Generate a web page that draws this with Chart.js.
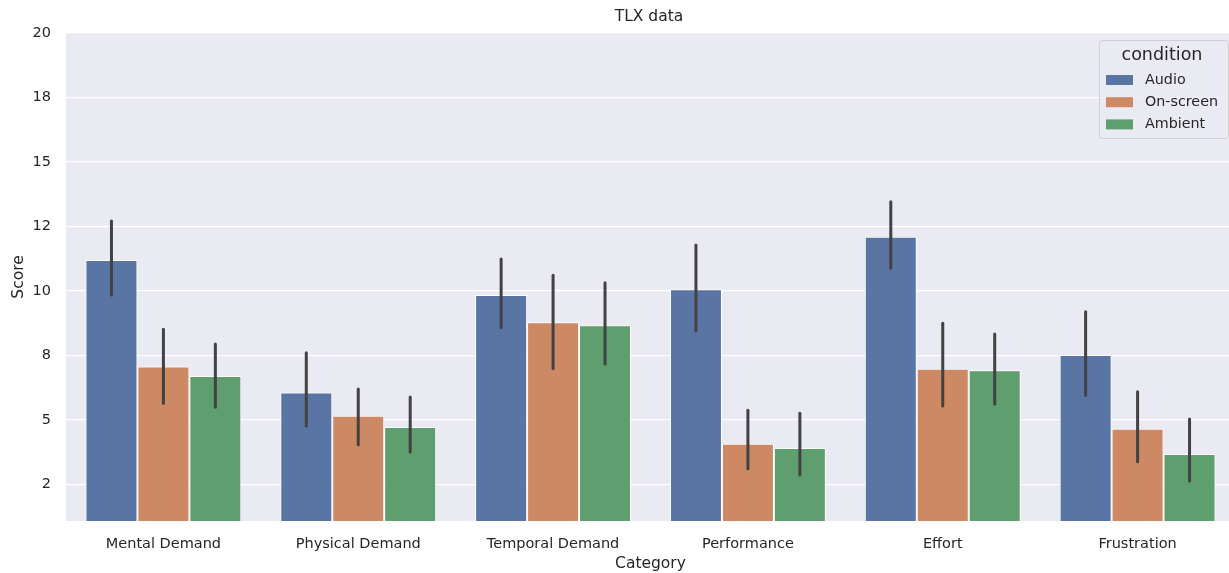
<!DOCTYPE html>
<html>
<head>
  <title>TLX data</title>
  <script src="https://cdn.jsdelivr.net/npm/chart.js"></script>
  <style>
    html, body { margin: 0; padding: 0; background: #ffffff; overflow: hidden; }
    #wrap { width: 1235px; height: 573px; }
  </style>
</head>
<body>
  <div id="wrap"><canvas id="tlx-chart" width="1235" height="573"></canvas></div>
  <script>
    // categories and series
    const categories = ["Mental Demand", "Physical Demand", "Temporal Demand", "Performance", "Effort", "Frustration"];
    const conditions = ["Audio", "On-screen", "Ambient"];

    const audioMean = [11.2, 6.07, 9.84, 10.07, 12.1, 7.52];
    const audioLow = [9.84, 4.77, 8.58, 8.45, 10.88, 5.96];
    const audioHigh = [12.71, 7.61, 11.24, 11.78, 13.46, 9.2];

    const onscreenMean = [7.07, 5.16, 8.79, 4.08, 6.99, 4.66];
    const onscreenLow = [5.65, 4.04, 7.0, 3.11, 5.54, 3.38];
    const onscreenHigh = [8.52, 6.2, 10.61, 5.38, 8.75, 6.09];

    const ambientMean = [6.71, 4.73, 8.67, 3.91, 6.93, 3.68];
    const ambientLow = [5.49, 3.76, 7.17, 2.87, 5.61, 2.64];
    const ambientHigh = [7.95, 5.89, 10.32, 5.26, 8.33, 5.04];

    // y ticks sit every 2.5, labels printed rounded like the original
    const tickValues = [2.5, 5, 7.5, 10, 12.5, 15, 17.5, 20];
    const tickLabels = ["2", "5", "8", "10", "12", "15", "18", "20"];

    const colors = ["#5975a4", "#cc8963", "#5f9e6e"];
    const FONT = "'DejaVu Sans', sans-serif";

    const errorBars = [
      { low: audioLow, high: audioHigh },
      { low: onscreenLow, high: onscreenHigh },
      { low: ambientLow, high: ambientHigh }
    ];

    const plotBg = {
      id: "plotBg",
      beforeDraw(chart) {
        const a = chart.chartArea;
        const ctx = chart.ctx;
        ctx.save();
        ctx.fillStyle = "#eaeaf2";
        ctx.fillRect(a.left, a.top, a.right - a.left, a.bottom - a.top);
        ctx.restore();
      },
      afterDatasetsDraw(chart) {
        const ctx = chart.ctx;
        const y = chart.scales.y;
        ctx.save();
        ctx.strokeStyle = "#424242";
        ctx.lineWidth = 3;
        ctx.lineCap = "round";
        chart.data.datasets.forEach((ds, i) => {
          const meta = chart.getDatasetMeta(i);
          meta.data.forEach((bar, j) => {
            ctx.beginPath();
            ctx.moveTo(bar.x, y.getPixelForValue(errorBars[i].low[j]));
            ctx.lineTo(bar.x, y.getPixelForValue(errorBars[i].high[j]));
            ctx.stroke();
          });
        });

        // title
        ctx.fillStyle = "#262626";
        ctx.font = "15.5px " + FONT;
        ctx.textAlign = "center";
        ctx.textBaseline = "middle";
        ctx.fillText("TLX data", 649, 17);

        // legend box, top right inside the plot
        const bx = 1099, by = 40, bw = 129, bh = 98;
        ctx.fillStyle = "rgba(234,234,242,0.8)";
        ctx.strokeStyle = "#d0d0d0";
        ctx.lineWidth = 1;
        ctx.beginPath();
        ctx.roundRect(bx + 0.5, by + 0.5, bw, bh, 3);
        ctx.fill();
        ctx.stroke();
        ctx.fillStyle = "#262626";
        ctx.font = "17.5px " + FONT;
        ctx.fillText("condition", bx + 63, by + 15);
        ctx.font = "14.3px " + FONT;
        ctx.textAlign = "left";
        chart.data.datasets.forEach((ds, i) => {
          const ly = by + 40 + i * 22.2;
          ctx.fillStyle = colors[i];
          ctx.fillRect(bx + 7, ly - 5, 27, 10);
          ctx.fillStyle = "#262626";
          ctx.fillText(ds.label, bx + 46, ly);
        });
        ctx.restore();
      }
    };

    new Chart(document.getElementById("tlx-chart"), {
      type: "bar",
      data: {
        labels: categories,
        datasets: [
          { label: conditions[0], data: audioMean, backgroundColor: colors[0] },
          { label: conditions[1], data: onscreenMean, backgroundColor: colors[1] },
          { label: conditions[2], data: ambientMean, backgroundColor: colors[2] }
        ].map(d => Object.assign(d, {
          borderColor: "#ffffff",
          borderWidth: 1,
          borderSkipped: false,
          categoryPercentage: 0.8,
          barPercentage: 1.0
        }))
      },
      options: {
        responsive: false,
        animation: false,
        layout: { padding: { top: 33, right: 0, left: 0, bottom: 0 } },
        plugins: {
          legend: { display: false },
          tooltip: { enabled: false },
          title: { display: false }
        },
        scales: {
          x: {
            grid: { display: false, drawTicks: false },
            border: { display: false },
            ticks: { color: "#262626", font: { family: FONT, size: 14.5 }, padding: 15 },
            title: {
              display: true, text: "Category", color: "#262626",
              font: { family: FONT, size: 15.5 }, padding: { top: 0, bottom: 0 }
            },
            afterFit(scale) { scale.height = 52; }
          },
          y: {
            min: 1.085,
            max: 20,
            afterBuildTicks(scale) { scale.ticks = tickValues.map(v => ({ value: v })); },
            grid: { color: "#ffffff", lineWidth: 1.3, drawTicks: false },
            border: { display: false },
            ticks: {
              color: "#262626",
              font: { family: FONT, size: 14.5 },
              padding: 15,
              callback: (v, i) => tickLabels[i]
            },
            title: {
              display: true, text: "Score", color: "#262626",
              font: { family: FONT, size: 15.5 }, padding: { top: 10, bottom: 0 }
            },
            afterFit(scale) { scale.width = 66; }
          }
        }
      },
      plugins: [plotBg]
    });
  </script>
</body>
</html>
